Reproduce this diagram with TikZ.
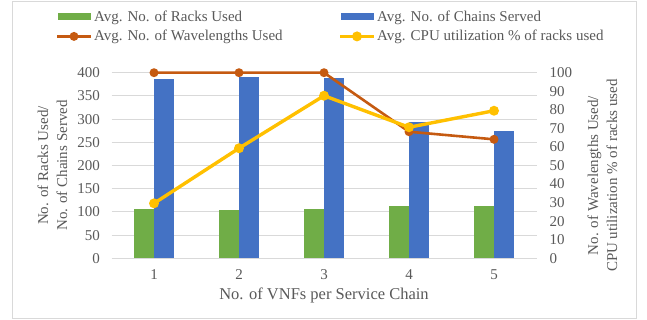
\documentclass[tikz,border=0pt]{standalone}
\usepackage{fontspec}
\setmainfont{Liberation Serif}
\definecolor{txt}{HTML}{595959}
\definecolor{gridc}{HTML}{D9D9D9}
\definecolor{framec}{HTML}{D9D9D9}
\definecolor{cgreen}{HTML}{70AD47}
\definecolor{cblue}{HTML}{4472C4}
\definecolor{corange}{HTML}{C55A11}
\definecolor{cyellow}{HTML}{FFC000}
\tikzset{
  gridline/.style={draw=gridc, line width=0.9pt},
  ticklbl/.style={text=txt, font=\fontsize{15}{17}\selectfont, inner sep=0pt},
  axtitle/.style={text=txt, font=\fontsize{15}{19}\selectfont, inner sep=0pt, align=center},
  legtext/.style={text=txt, font=\fontsize{15}{17}\selectfont, inner sep=0pt, anchor=west},
  greenbar/.style={fill=cgreen, draw=none},
  bluebar/.style={fill=cblue, draw=none},
  orangeline/.style={draw=corange, line width=2.6pt, line join=round},
  yellowline/.style={draw=cyellow, line width=3.4pt, line join=round},
  orangemark/.style={circle, fill=corange, inner sep=0pt, minimum size=9pt},
  yellowmark/.style={circle, fill=cyellow, inner sep=0pt, minimum size=10pt},
}
\begin{document}
\begin{tikzpicture}[x=1pt,y=-1pt]
\useasboundingbox (0,0) rectangle (647,320);
% frame
\draw[draw=framec, line width=0.8pt] (12,1) rectangle (636,318);
% gridlines and tick labels
\foreach \i in {0,...,8} {
  \pgfmathsetmacro{\yy}{258.3-\i*23.2}
  \draw[gridline] (111.5,\yy) -- (536.5,\yy);
  \pgfmathtruncatemacro{\lv}{\i*50}
  \node[ticklbl, anchor=east] (lt\i) at (100,\yy) {\lv};
}
\foreach \v in {0,10,...,100} {
  \pgfmathsetmacro{\yy}{258.3-\v*1.856}
  \node[ticklbl, anchor=west] (rt\v) at (549.5,\yy) {\v};
}
% bars
\foreach \c/\g/\b in {1/105.5/386,2/104/390.5,3/107/389,4/112.5/294,5/112.5/274} {
  \pgfmathsetmacro{\xc}{111.5+(\c-0.5)*85}
  \pgfmathsetmacro{\yg}{258.3-\g*0.464}
  \pgfmathsetmacro{\yb}{258.3-\b*0.464}
  \fill[greenbar] (\xc-20,258.3) rectangle (\xc,\yg);
  \fill[bluebar] (\xc,258.3) rectangle (\xc+20,\yb);
  \node[ticklbl] (cat\c) at (\xc,275) {\c};
}
% line series
\foreach \c/\o/\y in {1/100/29.6,2/100/59.3,3/100/87.6,4/68.2/70.6,5/64.1/79.5} {
  \pgfmathsetmacro{\xc}{111.5+(\c-0.5)*85}
  \coordinate (o\c) at (\xc,258.3-\o*1.856);
  \coordinate (y\c) at (\xc,258.3-\y*1.856);
}
\draw[orangeline] (o1) -- (o2) -- (o3) -- (o4) -- (o5);
\foreach \c in {1,...,5} \node[orangemark] (om\c) at (o\c) {};
\draw[yellowline] (y1) -- (y2) -- (y3) -- (y4) -- (y5);
\foreach \c in {1,...,5} \node[yellowmark] (ym\c) at (y\c) {};
% axis titles
\node[axtitle, rotate=90] (ltitle) at (52.5,165.5) {No. of Racks Used/\\No. of Chains Served};
\node[axtitle, rotate=90] (rtitle) at (602.5,175.5) {No. of Wavelengths Used/\\CPU utilization \% of racks used};
\node[axtitle, font=\fontsize{16.5}{19}\selectfont] (xtitle) at (324,295) {No. of VNFs per Service Chain};
% legend
\fill[cgreen] (58,13.5) rectangle (91,20.5);
\node[legtext] (lg1) at (94,17.4) {Avg. No. of Racks Used};
\fill[cblue] (341,13.5) rectangle (374,20.5);
\node[legtext] (lg2) at (377,17.4) {Avg. No. of Chains Served};
\coordinate (lo1) at (57,36.4); \coordinate (lo2) at (91,36.4);
\draw[orangeline] (lo1) -- (lo2);
\node[orangemark] (lom) at (74,36.4) {};
\node[legtext] (lg3) at (94,36.4) {Avg. No. of Wavelengths Used};
\coordinate (ly1) at (340,36.4); \coordinate (ly2) at (374,36.4);
\draw[yellowline] (ly1) -- (ly2);
\node[yellowmark] (lym) at (357,36.4) {};
\node[legtext] (lg4) at (377,36.4) {Avg. CPU utilization \% of racks used};
\end{tikzpicture}
\end{document}
